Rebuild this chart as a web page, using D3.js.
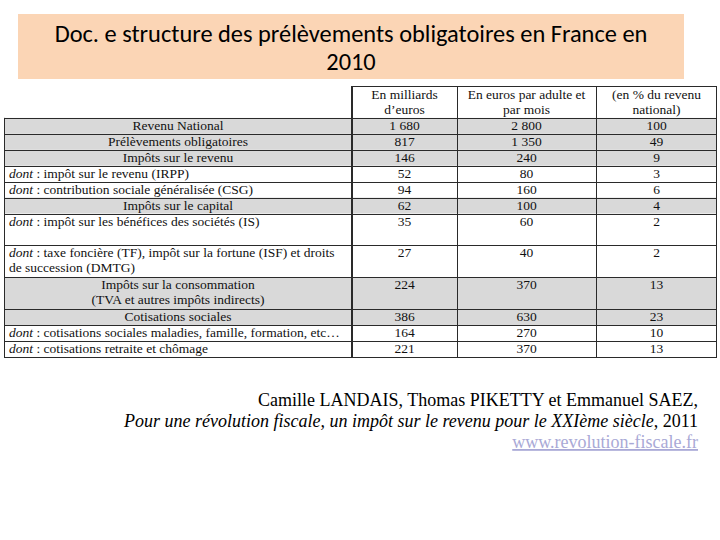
<!DOCTYPE html>
<html><head><meta charset="utf-8">
<script src="https://cdn.jsdelivr.net/npm/d3@7/dist/d3.min.js"></script>
</head><body style="margin:0;background:#fff">
<svg id="c" width="720" height="540" style="display:block"></svg>
<script>
// ---- data ----
const titleLines = ["Doc. e structure des prélèvements obligatoires en France en", "2010"];
const headers = [["En milliards", "d\u2019euros"], ["En euros par adulte et", "par mois"], ["(en % du revenu", "national)"]];
const rowLabels = [
  ["Revenu National"],
  ["Prélèvements obligatoires"],
  ["Impôts sur le revenu"],
  [": impôt sur le revenu (IRPP)"],
  [": contribution sociale généralisée (CSG)"],
  ["Impôts sur le capital"],
  [": impôt sur les bénéfices des sociétés (IS)"],
  [": taxe foncière (TF), impôt sur la fortune (ISF) et droits", "de succession (DMTG)"],
  ["Impôts sur la consommation", "(TVA et autres impôts indirects)"],
  ["Cotisations sociales"],
  [": cotisations sociales maladies, famille, formation, etc\u2026"],
  [": cotisations retraite et chômage"]
];
const rowIsTotal = [true, true, true, false, false, true, false, false, true, true, false, false];
const rowSpan = [1, 1, 1, 1, 1, 1, 2, 2, 2, 1, 1, 1];
const milliards = [1680, 817, 146, 52, 94, 62, 35, 27, 224, 386, 164, 221];
const eurosMois = [2800, 1350, 240, 80, 160, 100, 60, 40, 370, 630, 270, 370];
const pctRevenu = [100, 49, 9, 3, 6, 4, 2, 2, 13, 23, 10, 13];
const sourceAuthors = "Camille LANDAIS, Thomas PIKETTY et Emmanuel SAEZ,";
const sourceBook = "Pour une révolution fiscale, un impôt sur le revenu pour le XXIème siècle";
const sourceYear = ", 2011";
const sourceUrl = "www.revolution-fiscale.fr";

// ---- layout ----
const svg = d3.select("#c");
const SERIF = '"Liberation Serif", monospace';
const CAL = '"Carlito", monospace';
const FS = 13.5;
const fmt = d3.formatLocale({decimal: ",", thousands: " ", grouping: [3], currency: ["", "€"]}).format(",d");
const T = (sel) => sel.style("font-family", SERIF);

// title box
svg.append("rect").attr("x", 18).attr("y", 14).attr("width", 666).attr("height", 65).attr("fill", "#fbd5b5");
svg.selectAll("text.title").data(titleLines).join("text")
  .attr("class", "title")
  .attr("x", 351).attr("y", (d, i) => 42 + i * 28)
  .attr("text-anchor", "middle")
  .style("font-family", CAL).attr("font-size", 24.4).attr("fill", "#000")
  .text(d => d);

// vertical scale: line units -> pixels
const headerUnits = 2;
const cum = [0];
rowSpan.forEach((s, i) => cum.push(cum[i] + s));
const totalUnits = headerUnits + cum[cum.length - 1];
const y = d3.scaleLinear().domain([0, totalUnits]).range([86, 357]);
const colEdges = [4, 352, 457, 596, 717];
const x = d3.scaleOrdinal().domain([0, 1, 2, 3, 4]).range(colEdges);
const colCenter = c => (x(c) + x(c + 1)) / 2;

const rows = rowLabels.map((lab, i) => ({
  lab, total: rowIsTotal[i],
  y0: y(headerUnits + cum[i]), y1: y(headerUnits + cum[i + 1]),
  vals: [fmt(milliards[i]), fmt(eurosMois[i]), fmt(pctRevenu[i])]
}));

// gray fills
svg.selectAll("rect.fill").data(rows.filter(r => r.total)).join("rect")
  .attr("class", "fill")
  .attr("x", x(0)).attr("width", x(4) - x(0))
  .attr("y", d => d.y0).attr("height", d => d.y1 - d.y0)
  .attr("fill", "#d9d9d9");

// header texts
headers.forEach((h, c) => {
  svg.selectAll(null).data(h).join("text")
    .call(T)
    .attr("x", colCenter(c + 1)).attr("y", (d, i) => y(0) + 13 + i * 15)
    .attr("text-anchor", "middle")
    .attr("font-size", FS).attr("fill", "#111")
    .text(d => d);
});

// row labels
rows.forEach(r => {
  r.lab.forEach((line, li) => {
    const t = svg.append("text").call(T)
      .attr("y", r.y0 + 12 + li * 15)
      .attr("font-size", FS).attr("fill", "#111");
    if (r.total) {
      t.attr("x", colCenter(0)).attr("text-anchor", "middle").text(line);
    } else {
      t.attr("x", x(0) + 5);
      if (li === 0) {
        t.append("tspan").attr("font-style", "italic").text("dont");
        t.append("tspan").text(" " + line);
      } else {
        t.text(line);
      }
    }
  });
  r.vals.forEach((v, c) => {
    svg.append("text").call(T)
      .attr("x", colCenter(c + 1)).attr("y", r.y0 + 12)
      .attr("text-anchor", "middle")
      .attr("font-size", FS).attr("fill", "#111")
      .text(v);
  });
});

// grid lines
const lineColor = "#2a2a2a";
svg.append("line").attr("x1", x(1)).attr("x2", x(4)).attr("y1", y(0) + 0.5).attr("y2", y(0) + 0.5)
  .attr("stroke", lineColor).attr("stroke-width", 1);
const hLines = [rows[0].y0].concat(rows.map(r => r.y1));
svg.selectAll("line.h").data(hLines).join("line")
  .attr("class", "h")
  .attr("x1", x(0)).attr("x2", x(4))
  .attr("y1", d => Math.round(d) + 0.5).attr("y2", d => Math.round(d) + 0.5)
  .attr("stroke", lineColor).attr("stroke-width", 1);
svg.append("line").attr("x1", x(0) + 0.5).attr("x2", x(0) + 0.5).attr("y1", rows[0].y0).attr("y2", y(totalUnits) + 1)
  .attr("stroke", lineColor);
svg.append("line").attr("x1", x(1)).attr("x2", x(1)).attr("y1", y(0)).attr("y2", y(totalUnits) + 1)
  .attr("stroke", lineColor).attr("stroke-width", 2);
[2, 3].forEach(c => {
  svg.append("line").attr("x1", x(c) + 0.5).attr("x2", x(c) + 0.5).attr("y1", y(0)).attr("y2", y(totalUnits) + 1)
    .attr("stroke", lineColor);
});
svg.append("line").attr("x1", x(4) - 0.5).attr("x2", x(4) - 0.5).attr("y1", y(0)).attr("y2", y(totalUnits) + 1)
  .attr("stroke", lineColor);

// source
svg.append("text").call(T).attr("x", 698).attr("y", 406).attr("text-anchor", "end")
  .attr("font-size", 18).attr("fill", "#000").text(sourceAuthors);
const s2 = svg.append("text").call(T).attr("x", 698).attr("y", 427).attr("text-anchor", "end")
  .attr("font-size", 18).attr("fill", "#000");
s2.append("tspan").attr("font-style", "italic").text(sourceBook);
s2.append("tspan").text(sourceYear);
svg.append("text").call(T).attr("x", 698).attr("y", 448).attr("text-anchor", "end")
  .attr("font-size", 18).attr("fill", "#a9a9d6")
  .attr("text-decoration", "underline").text(sourceUrl);
</script></body></html>
